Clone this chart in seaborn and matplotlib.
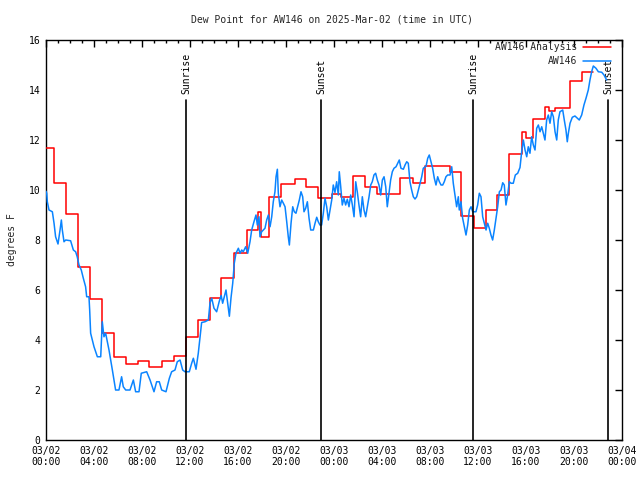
import matplotlib
matplotlib.use("Agg")
import matplotlib.pyplot as plt
import seaborn as sns
import pandas as pd
from matplotlib.ticker import MultipleLocator, FixedLocator

# ---------------- data ----------------
title = "Dew Point for AW146 on 2025-Mar-02 (time in UTC)"
ylabel = "degrees F"

x_tick_hours = [0, 4, 8, 12, 16, 20, 24, 28, 32, 36, 40, 44, 48]
x_tick_labels = ["03/02\n00:00", "03/02\n04:00", "03/02\n08:00", "03/02\n12:00",
                 "03/02\n16:00", "03/02\n20:00", "03/03\n00:00", "03/03\n04:00",
                 "03/03\n08:00", "03/03\n12:00", "03/03\n16:00", "03/03\n20:00",
                 "03/04\n00:00"]

# Analysis (hours since 03/02 00:00 UTC where each level starts)
analysis_hours = [0.0, 0.65, 1.65, 2.65, 3.68, 4.65, 5.68, 6.7, 7.68, 8.62,
                  9.65, 10.65, 11.68, 12.65, 13.65, 14.62, 15.7, 16.78, 17.65, 17.95,
                  18.62, 19.62, 20.72, 21.7, 22.7, 23.8, 24.62, 25.62, 26.58, 27.6,
                  29.5, 30.6, 31.55, 33.7, 34.55, 35.65, 36.65, 37.55, 38.6, 39.7,
                  40.0, 40.6, 41.6, 41.95, 42.45, 43.7, 44.7, 45.55]
analysis_values = [11.7, 10.27, 9.04, 6.93, 5.63, 4.27, 3.33, 3.03, 3.16, 2.93,
                   3.18, 3.37, 4.13, 4.8, 5.69, 6.5, 7.47, 8.4, 9.13, 8.1,
                   9.7, 10.23, 10.42, 10.13, 9.68, 9.84, 9.7, 10.55, 10.1, 9.84,
                   10.48, 10.27, 10.97, 10.73, 8.95, 8.48, 9.18, 9.8, 11.42, 12.3,
                   12.07, 12.83, 13.33, 13.15, 13.27, 14.35, 14.7, 14.7]

# Observations
obs_hours = [0.0, 0.06, 0.11, 0.25, 0.53, 0.67, 0.8, 1.0, 1.17, 1.28, 1.36, 1.5, 1.64,
             2.05, 2.28, 2.47, 2.6, 2.75, 2.94, 3.11, 3.3, 3.39, 3.58, 3.64, 3.72,
             4.0, 4.28, 4.56, 4.69, 4.83, 4.97, 5.25, 5.53, 5.8, 6.08, 6.3, 6.44,
             6.64, 7.0, 7.28, 7.47, 7.75, 7.94, 8.39, 8.67, 9.0, 9.22, 9.44, 9.64,
             10.0, 10.28, 10.47, 10.75, 10.94, 11.17, 11.39, 11.58, 11.94, 12.14,
             12.28, 12.5, 12.69, 12.83, 12.97, 13.25, 13.53, 13.67, 13.81, 14.0,
             14.22, 14.44, 14.6, 14.72, 14.86, 15.0, 15.14, 15.28, 15.42, 15.56,
             15.69, 15.83, 16.03, 16.17, 16.31, 16.44, 16.64, 16.81, 17.0, 17.14,
             17.33, 17.5, 17.61, 17.75, 17.83, 17.97, 18.11, 18.25, 18.39, 18.53,
             18.67, 18.81, 18.94, 19.08, 19.17, 19.28, 19.36, 19.5, 19.64, 19.78,
             19.92, 20.06, 20.19, 20.28, 20.42, 20.56, 20.69, 20.83, 20.97, 21.11,
             21.25, 21.39, 21.5, 21.64, 21.78, 21.92, 22.06, 22.28, 22.42, 22.56,
             22.69, 22.83, 22.97, 23.11, 23.25, 23.39, 23.53, 23.67, 23.81, 23.94,
             24.08, 24.22, 24.36, 24.44, 24.56, 24.69, 24.83, 24.97, 25.11, 25.25,
             25.39, 25.53, 25.67, 25.81, 25.94, 26.08, 26.22, 26.36, 26.5, 26.64,
             26.78, 26.92, 27.06, 27.19, 27.33, 27.47, 27.61, 27.75, 27.89, 28.03,
             28.17, 28.31, 28.44, 28.58, 28.72, 28.86, 29.0, 29.17, 29.31, 29.44,
             29.58, 29.78, 29.92, 30.06, 30.19, 30.33, 30.47, 30.61, 30.75, 30.89,
             31.03, 31.17, 31.31, 31.44, 31.67, 31.81, 31.94, 32.08, 32.22, 32.36,
             32.5, 32.64, 32.78, 32.92, 33.06, 33.19, 33.33, 33.47, 33.67, 33.81,
             33.94, 34.08, 34.22, 34.36, 34.44, 34.58, 34.72, 34.86, 35.0, 35.14,
             35.28, 35.42, 35.56, 35.83, 35.97, 36.11, 36.25, 36.39, 36.53, 36.67,
             36.81, 36.94, 37.08, 37.22, 37.36, 37.5, 37.64, 37.78, 37.92, 38.06,
             38.19, 38.33, 38.47, 38.61, 38.75, 38.94, 39.11, 39.31, 39.5, 39.64,
             39.78, 39.92, 40.06, 40.19, 40.33, 40.47, 40.61, 40.75, 40.89, 41.03,
             41.17, 41.31, 41.44, 41.58, 41.72, 41.86, 42.0, 42.14, 42.28, 42.42,
             42.56, 42.69, 42.83, 43.06, 43.19, 43.33, 43.44, 43.53, 43.67, 43.86,
             44.08, 44.28, 44.44, 44.64, 44.83, 45.0, 45.19, 45.33, 45.47, 45.61,
             45.83, 46.03, 46.31, 46.5, 46.72]
obs_values = [9.95, 9.87, 9.53, 9.2, 9.13, 8.67, 8.13, 7.84, 8.4, 8.8, 8.4, 7.93, 8.0,
              7.97, 7.6, 7.53, 7.33, 7.0, 6.8, 6.47, 6.13, 5.73, 5.73, 5.2, 4.27,
              3.73, 3.33, 3.33, 4.73, 4.13, 4.27, 3.6, 2.8, 2.0, 2.0, 2.53, 2.13,
              2.0, 2.0, 2.4, 1.93, 1.93, 2.67, 2.73, 2.4, 1.93, 2.33, 2.33, 2.0,
              1.93, 2.47, 2.73, 2.8, 3.13, 3.2, 2.8, 2.73, 2.73, 3.07,
              3.27, 2.83, 3.47, 4.07, 4.7, 4.73, 4.8, 5.5, 5.67, 5.27,
              5.13, 5.55, 5.78, 5.47, 5.73, 6.0, 5.47, 4.95, 5.7, 6.27,
              7.07, 7.47, 7.67, 7.47, 7.6, 7.53, 7.73, 7.47, 7.93, 8.4,
              8.73, 9.0, 8.6, 8.93, 8.13, 8.33, 8.4, 8.47, 8.8, 9.0,
              8.53, 8.93, 9.53, 9.93, 10.53, 10.83, 9.87, 9.33, 9.6, 9.47,
              9.33, 8.73, 8.13, 7.8, 8.67, 9.33, 9.13, 9.07, 9.33, 9.6,
              9.93, 9.73, 9.13, 9.27, 9.53, 8.87, 8.4, 8.4, 8.67, 8.91,
              8.73, 8.6, 8.6, 9.07, 9.67, 9.33, 8.8, 9.2, 9.6, 10.2,
              9.9, 10.33, 9.8, 10.73, 10.13, 9.4, 9.67, 9.4, 9.63, 9.33,
              9.8, 9.4, 8.93, 10.33, 9.93, 9.4, 8.93, 9.73, 9.2, 8.93,
              9.33, 9.73, 10.2, 10.33, 10.6, 10.67, 10.4, 10.2, 9.8, 10.4,
              10.53, 10.13, 9.33, 9.87, 10.4, 10.73, 10.87, 10.93, 11.07, 11.2,
              10.87, 10.83, 11.0, 11.13, 11.07, 10.33, 10.0, 9.73, 9.64, 9.73,
              10.0, 10.27, 10.53, 10.87, 10.95, 11.27, 11.4, 11.13, 10.87, 10.47,
              10.2, 10.53, 10.33, 10.2, 10.2, 10.33, 10.53, 10.6, 10.6, 10.93,
              10.27, 9.8, 9.33, 9.73, 9.2, 9.53, 8.87, 8.53, 8.2, 8.6,
              9.2, 9.33, 9.13, 9.13, 9.4, 9.87, 9.73, 8.93, 8.67, 8.4,
              8.67, 8.47, 8.2, 8.0, 8.4, 8.87, 9.33, 9.93, 10.0, 10.29,
              10.2, 9.4, 9.8, 10.33, 10.27, 10.27, 10.6, 10.67, 10.9, 11.53,
              12.0, 11.6, 11.33, 11.73, 11.47, 12.13, 11.8, 11.6, 12.47, 12.6,
              12.33, 12.53, 12.27, 12.0, 12.8, 13.0, 12.67, 13.13, 12.93, 12.33,
              12.0, 12.8, 13.13, 13.2, 12.8, 12.4, 11.93, 12.27, 12.67, 12.91,
              12.96, 12.87, 12.8, 13.0, 13.4, 13.67, 14.0, 14.4, 14.73, 14.96,
              14.87, 14.73, 14.71, 14.6, 14.4]

sun_labels = ["Sunrise", "Sunset", "Sunrise", "Sunset"]
sun_hours = [11.67, 22.92, 35.58, 46.83]
sun_line_top = 13.6

series_names = ["AW146 Analysis", "AW146"]
series_colors = ["#ff0000", "#0a84ff"]

# ---------------- plot ----------------
sns.set_theme(style="white")
plt.rcParams["font.family"] = ["DejaVu Sans Mono", "DejaVu Sans"]
plt.rcParams["font.size"] = 7

fig = plt.figure(figsize=(6.4, 4.8), dpi=100)
ax = fig.add_axes([46 / 640, 40 / 480, 576 / 640, 400 / 480])

df_a = pd.DataFrame({"hours": analysis_hours, "value": analysis_values})
df_o = pd.DataFrame({"hours": obs_hours, "value": obs_values})

sns.lineplot(data=df_a, x="hours", y="value", ax=ax, color=series_colors[0],
             linewidth=1.1, drawstyle="steps-post", estimator=None,
             label=series_names[0], zorder=3)
sns.lineplot(data=df_o, x="hours", y="value", ax=ax, color=series_colors[1],
             linewidth=1.1, estimator=None, label=series_names[1], zorder=4)

for lab, h in zip(sun_labels, sun_hours):
    ax.plot([h, h], [0, sun_line_top], color="black", linewidth=1.2, zorder=5)
    ax.text(h, sun_line_top + 0.25, lab, rotation=90, ha="center", va="bottom",
            fontsize=7, color="black")

ax.set_xlim(0, 48)
ax.set_ylim(0, 16)
ax.xaxis.set_major_locator(FixedLocator(x_tick_hours))
ax.set_xticklabels(x_tick_labels)
ax.xaxis.set_minor_locator(MultipleLocator(1))
ax.yaxis.set_major_locator(MultipleLocator(2))
ax.tick_params(axis="both", which="both", direction="in", top=True, right=True,
               colors="black", labelsize=7, width=1)
ax.tick_params(axis="both", which="major", length=5, pad=4)
ax.tick_params(axis="both", which="minor", length=2.5)
ax.set_xlabel("")
ax.set_ylabel("")
for s in ax.spines.values():
    s.set_color("black")
    s.set_linewidth(1)
    s.set_visible(True)

fig.text(332 / 640, 1 - 19 / 480, title, ha="center", va="center", fontsize=7)
fig.text(12 / 640, 0.5, ylabel, rotation=90, ha="center", va="center", fontsize=7)

leg = ax.legend(loc="upper right", bbox_to_anchor=(611 / 640, 1 - 42 / 480),
                bbox_transform=fig.transFigure, frameon=False, markerfirst=False,
                fontsize=7, handlelength=2.9, handletextpad=0.6, labelspacing=0.45,
                borderaxespad=0, borderpad=0)

fig.savefig("out.png", dpi=100, facecolor="white")
